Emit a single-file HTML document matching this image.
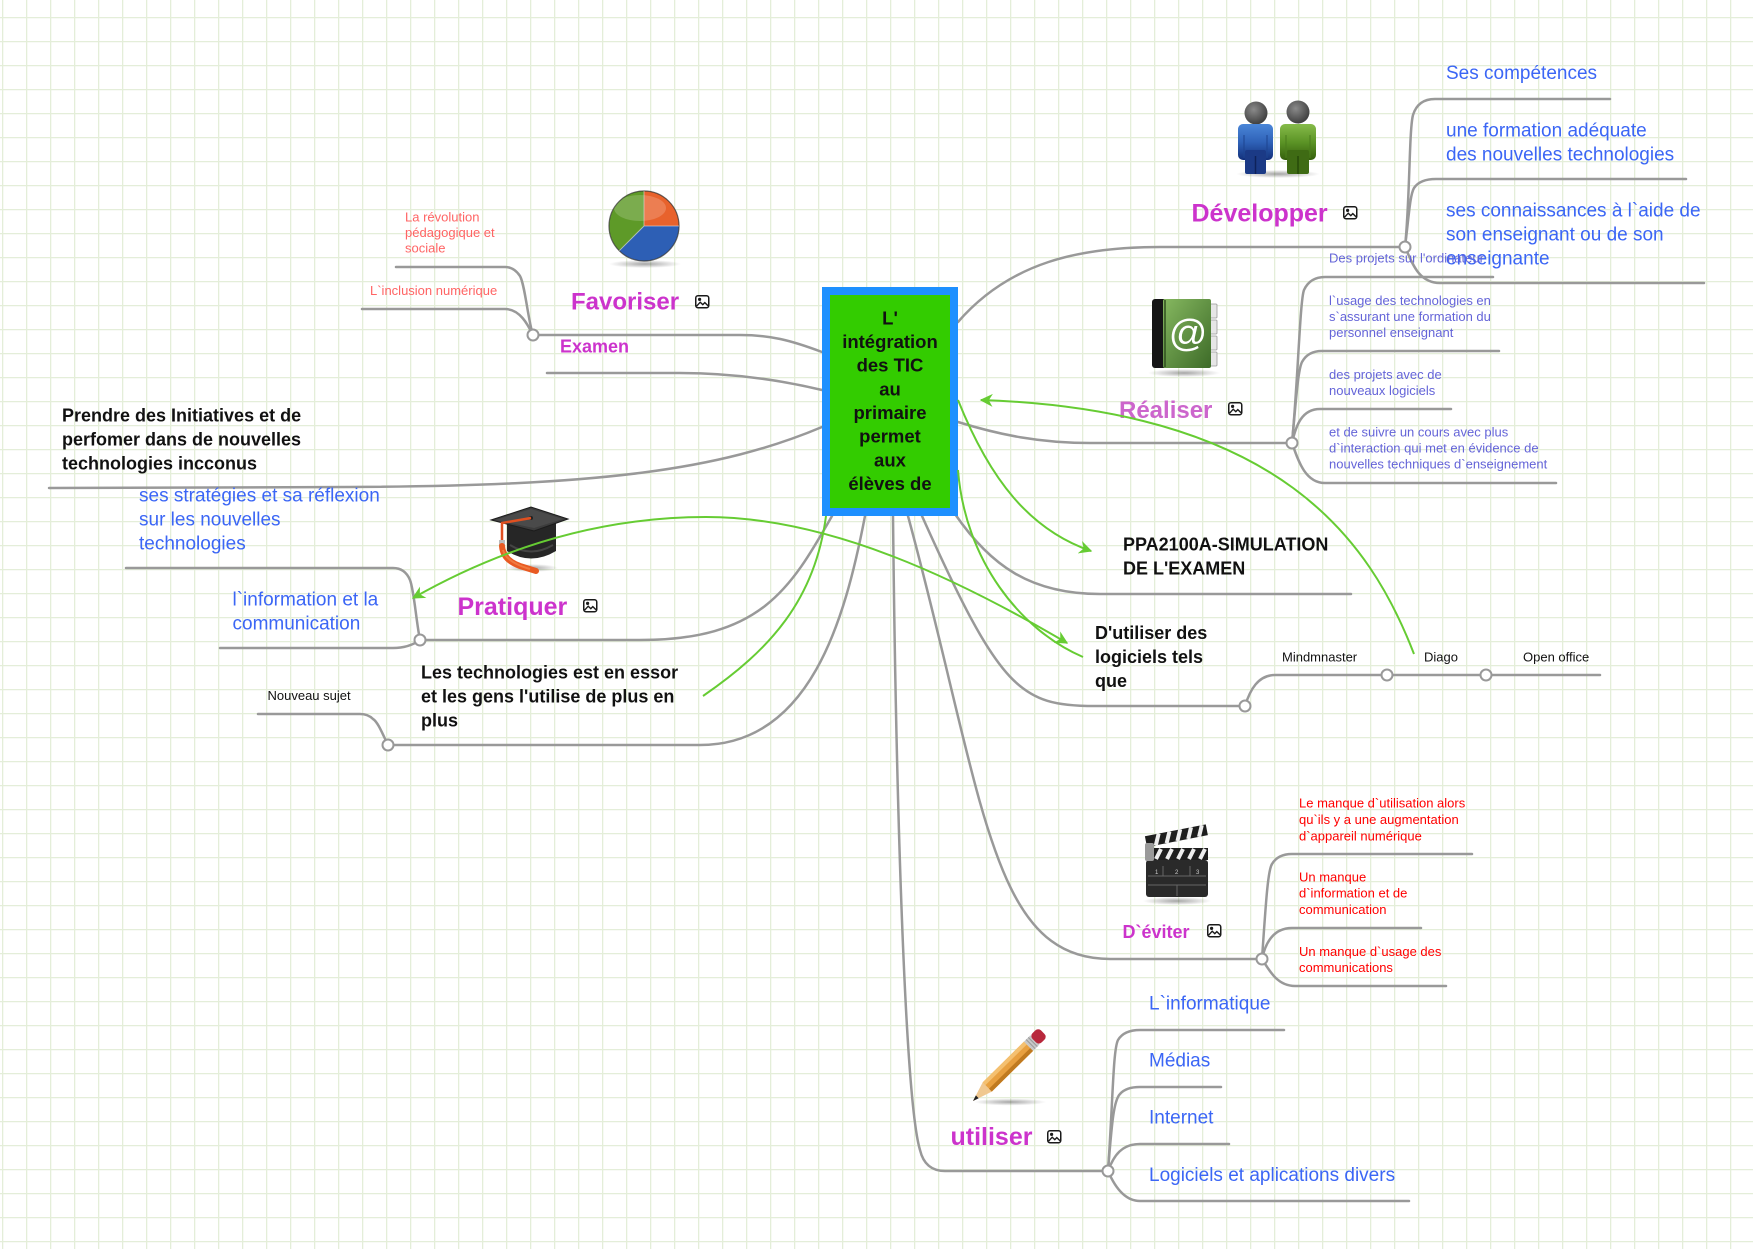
<!DOCTYPE html>
<html>
<head>
<meta charset="utf-8">
<style>
html,body{margin:0;padding:0;background:#ffffff;}
body{width:1753px;height:1249px;overflow:hidden;}
svg{display:block;}
text{font-family:"Liberation Sans",sans-serif;}
</style>
</head>
<body>
<svg width="1753" height="1249" viewBox="0 0 1753 1249" xmlns="http://www.w3.org/2000/svg">
<defs>
  <pattern id="grid" x="2" y="17" width="24" height="24" patternUnits="userSpaceOnUse">
    <path d="M0.5,0 V24 M0,0.5 H24" stroke="#e4eed9" stroke-width="1.6" fill="none"/>
  </pattern>
  <marker id="ah" viewBox="0 0 10 10" refX="9" refY="5" markerWidth="6.5" markerHeight="6.5" orient="auto-start-reverse" markerUnits="strokeWidth">
    <path d="M0,0 L10,5 L0,10 L3,5 z" fill="#66cc33"/>
  </marker>
  <g id="imgico">
    <rect x="0.75" y="0.75" width="13" height="12" rx="2.2" fill="#fff" stroke="#1a1a1a" stroke-width="1.5"/>
    <circle cx="4.6" cy="4.4" r="1.6" fill="#1a1a1a"/>
    <path d="M1.6,11.2 L5.2,7.2 L7.8,9.6 L9.8,7.6 L13,10.8" stroke="#1a1a1a" fill="none" stroke-width="1.4"/>
  </g>
  <linearGradient id="bookg" x1="0" y1="0" x2="1" y2="1">
    <stop offset="0" stop-color="#86b860"/>
    <stop offset="1" stop-color="#3d6b28"/>
  </linearGradient>
  <linearGradient id="blueP" x1="0" y1="0" x2="0" y2="1">
    <stop offset="0" stop-color="#4a86d8"/>
    <stop offset="0.5" stop-color="#2f62b8"/>
    <stop offset="1" stop-color="#13307a"/>
  </linearGradient>
  <linearGradient id="greenP" x1="0" y1="0" x2="0" y2="1">
    <stop offset="0" stop-color="#86bb4a"/>
    <stop offset="0.5" stop-color="#5c9426"/>
    <stop offset="1" stop-color="#345e0c"/>
  </linearGradient>
  <radialGradient id="headg" cx="0.4" cy="0.35" r="0.7">
    <stop offset="0" stop-color="#8a8a8a"/>
    <stop offset="1" stop-color="#3a3a3a"/>
  </radialGradient>
  <radialGradient id="shadow" cx="0.5" cy="0.5" r="0.5">
    <stop offset="0" stop-color="#000" stop-opacity="0.35"/>
    <stop offset="1" stop-color="#000" stop-opacity="0"/>
  </radialGradient>
</defs>

<!-- background grid -->
<rect x="0" y="0" width="1753" height="1249" fill="#ffffff"/>
<rect x="0" y="0" width="1753" height="1249" fill="url(#grid)"/>

<!-- grey connectors -->
<g stroke="#999999" stroke-width="2.5" fill="none" stroke-linecap="round">
  <path d="M958,322 C1010,262 1080,247 1160,247 L1405,247"/>
  <path d="M1405,247 C1410,200 1409,130 1413,115 Q1418,99 1435,99 L1610,99"/>
  <path d="M1405,247 C1409,215 1410,195 1414,188 Q1420,179 1436,179 L1686,179"/>
  <path d="M1405,247 C1412,262 1418,283 1440,283 L1704,283"/>
  <path d="M958,422 C1000,435 1040,443 1090,443 L1292,443"/>
  <path d="M1292,443 C1298,380 1300,300 1304,290 Q1310,277 1325,277 L1493,277"/>
  <path d="M1292,443 C1296,400 1298,370 1302,362 Q1308,351 1322,351 L1499,351"/>
  <path d="M1292,443 C1296,425 1302,409 1320,409 L1451,409"/>
  <path d="M1292,443 C1298,460 1305,483 1325,483 L1556,483"/>
  <path d="M822,352 C790,340 770,335 740,335 L533,335"/>
  <path d="M533,335 C528,320 525,285 520,276 Q514,267 505,267 L396,267"/>
  <path d="M533,335 C528,325 520,309 505,309 L362,309"/>
  <path d="M822,390 C780,380 730,373 680,373 L547,373"/>
  <path d="M822,427 C720,470 600,486 350,487 L49,488"/>
  <path d="M832,516 C790,590 760,640 640,640 L420,640"/>
  <path d="M420,640 C416,620 414,590 410,580 Q405,568 393,568 L126,568"/>
  <path d="M420,640 C413,645 405,648 393,648 L220,648"/>
  <path d="M865,516 C845,620 810,745 700,745 L388,745"/>
  <path d="M388,745 C383,735 378,722 373,719 Q368,714 360,714 L258,714"/>
  <path d="M893,516 C896,800 905,1100 920,1150 Q925,1171 945,1171 L1108,1171"/>
  <path d="M1108,1171 C1113,1100 1113,1050 1118,1040 Q1124,1030 1140,1030 L1284,1030"/>
  <path d="M1108,1171 C1112,1120 1114,1100 1120,1094 Q1126,1087 1140,1087 L1221,1087"/>
  <path d="M1108,1171 C1114,1155 1122,1144 1140,1144 L1229,1144"/>
  <path d="M1108,1171 C1114,1185 1124,1201 1140,1201 L1409,1201"/>
  <path d="M908,516 C985,800 990,959 1110,959 L1262,959"/>
  <path d="M1262,959 C1266,900 1268,870 1272,864 Q1278,854 1292,854 L1472,854"/>
  <path d="M1262,959 C1265,945 1272,928 1292,928 L1421,928"/>
  <path d="M1262,959 C1270,972 1278,986 1295,986 L1446,986"/>
  <path d="M922,516 C1000,690 1020,706 1095,706 L1245,706"/>
  <path d="M1245,706 C1250,690 1258,675 1275,675 L1600,675"/>
  <path d="M955,514 C990,565 1030,594 1100,594 L1351,594"/>
</g>

<!-- node circles -->
<g fill="#ffffff" stroke="#999999" stroke-width="2">
  <circle cx="1405" cy="247" r="5.5"/>
  <circle cx="1292" cy="443" r="5.5"/>
  <circle cx="533" cy="335" r="5.5"/>
  <circle cx="420" cy="640" r="5.5"/>
  <circle cx="388" cy="745" r="5.5"/>
  <circle cx="1108" cy="1171" r="5.5"/>
  <circle cx="1262" cy="959" r="5.5"/>
  <circle cx="1245" cy="706" r="5.5"/>
  <circle cx="1387" cy="675" r="5.5"/>
  <circle cx="1486" cy="675" r="5.5"/>
</g>

<!-- central box -->
<rect x="822" y="287" width="136" height="229" fill="#1e90ff"/>
<rect x="830" y="295" width="120" height="213" fill="#33cc00"/>
<g font-size="18.5" font-weight="bold" fill="#111" text-anchor="middle">
  <text x="890" y="324.5">L'</text>
  <text x="890" y="348">intégration</text>
  <text x="890" y="371.7">des TIC</text>
  <text x="890" y="395.4">au</text>
  <text x="890" y="419">primaire</text>
  <text x="890" y="442.7">permet</text>
  <text x="890" y="466.4">aux</text>
  <text x="890" y="490">élèves de</text>
</g>

<!-- ICONS -->
<!-- pie chart -->
<g>
  <ellipse cx="645" cy="264" rx="36" ry="4" fill="url(#shadow)"/>
  <path d="M644,226 L644,191 A35,35 0 0,1 679,226 Z" fill="#e8622c"/>
  <path d="M644,226 L679,226 A35,35 0 0,1 619.3,250.7 Z" fill="#2d5fb5"/>
  <path d="M644,226 L619.3,250.7 A35,35 0 0,1 644,191 Z" fill="#5e9a28"/>
  <ellipse cx="640" cy="208" rx="26" ry="13" fill="#ffffff" opacity="0.18"/>
  <circle cx="644" cy="226" r="35" fill="none" stroke="#2a2a2a" stroke-width="1.2" opacity="0.7"/>
  <path d="M644,226 L644,191 M644,226 L679,226 M644,226 L619.3,250.7" stroke="#ddd" stroke-width="1" opacity="0.6"/>
</g>

<!-- people -->
<g>
  <ellipse cx="1278" cy="174" rx="42" ry="4" fill="url(#shadow)"/>
  <circle cx="1256" cy="113" r="11.5" fill="url(#headg)"/>
  <rect x="1238" y="124" width="35" height="36" rx="5" fill="url(#blueP)"/>
  <rect x="1245" y="150" width="21" height="24" rx="2" fill="#1b3a86"/>
  <line x1="1255.5" y1="156" x2="1255.5" y2="174" stroke="#0e225a" stroke-width="1.5"/>
  <line x1="1244" y1="135" x2="1244" y2="158" stroke="#1d4490" stroke-width="1"/>
  <line x1="1267" y1="135" x2="1267" y2="158" stroke="#1d4490" stroke-width="1"/>
  <circle cx="1298" cy="112" r="11.5" fill="url(#headg)"/>
  <rect x="1280" y="124" width="36" height="36" rx="5" fill="url(#greenP)"/>
  <rect x="1287" y="150" width="22" height="24" rx="2" fill="#3f6b14"/>
  <line x1="1298" y1="156" x2="1298" y2="174" stroke="#274a08" stroke-width="1.5"/>
  <line x1="1286" y1="135" x2="1286" y2="158" stroke="#4a7d1c" stroke-width="1"/>
  <line x1="1310" y1="135" x2="1310" y2="158" stroke="#4a7d1c" stroke-width="1"/>
</g>

<!-- book -->
<g>
  <ellipse cx="1184" cy="373" rx="36" ry="4" fill="url(#shadow)"/>
  <rect x="1209" y="304" width="8" height="14" rx="1" fill="#e6e6e6" stroke="#999" stroke-width="0.8"/>
  <rect x="1209" y="320" width="8" height="14" rx="1" fill="#e6e6e6" stroke="#999" stroke-width="0.8"/>
  <rect x="1209" y="336" width="8" height="14" rx="1" fill="#e6e6e6" stroke="#999" stroke-width="0.8"/>
  <rect x="1209" y="352" width="8" height="14" rx="1" fill="#e6e6e6" stroke="#999" stroke-width="0.8"/>
  <rect x="1152" y="299" width="16" height="69" rx="3" fill="#151515"/>
  <rect x="1163" y="299" width="48" height="69" rx="2" fill="url(#bookg)"/>
  <line x1="1165" y1="300" x2="1165" y2="367" stroke="#2f4f1e" stroke-width="1.5"/>
  <text x="1188" y="346" font-family="Liberation Serif, serif" font-size="38" fill="#ffffff" text-anchor="middle">@</text>
</g>

<!-- graduation hat -->
<g>
  <ellipse cx="532" cy="568" rx="26" ry="4" fill="url(#shadow)"/>
  <path d="M507,523 L507,551 Q531,566 556,551 L556,523 Z" fill="#262626"/>
  <path d="M510,545 Q531,558 553,545" stroke="#444" stroke-width="2" fill="none"/>
  <polygon points="491,520 531,507 568,519 534,531" fill="#3c3c3c" stroke="#1c1c1c" stroke-width="1"/>
  <polygon points="495,520 531,509 563,519 534,528" fill="#4a4a4a"/>
  <circle cx="531" cy="518" r="2" fill="#222"/>
  <path d="M531,518 L502,523 L502,543" stroke="#e05020" stroke-width="2.5" fill="none"/>
  <rect x="499" y="540" width="6" height="6" fill="#bbbbbb"/>
  <path d="M502,546 Q503,560 520,566 L536,571" stroke="#e85a22" stroke-width="6" fill="none" stroke-linecap="round"/>
  <path d="M503,550 Q506,562 530,569" stroke="#f07a40" stroke-width="2" fill="none"/>
</g>

<!-- clapper board -->
<g>
  <ellipse cx="1177" cy="901" rx="34" ry="4" fill="url(#shadow)"/>
  <rect x="1146" y="860" width="62" height="37" rx="3" fill="#2a2a2a"/>
  <line x1="1148" y1="876" x2="1206" y2="876" stroke="#666" stroke-width="1"/>
  <line x1="1148" y1="885" x2="1206" y2="885" stroke="#666" stroke-width="1"/>
  <line x1="1177" y1="885" x2="1177" y2="896" stroke="#666" stroke-width="1"/>
  <line x1="1163" y1="866" x2="1163" y2="876" stroke="#666" stroke-width="1"/>
  <line x1="1190" y1="866" x2="1190" y2="876" stroke="#666" stroke-width="1"/>
  <text x="1155" y="874" font-size="6" fill="#ccc">1</text>
  <text x="1175" y="874" font-size="6" fill="#ccc">2</text>
  <text x="1196" y="874" font-size="6" fill="#ccc">3</text>
  <rect x="1146" y="848" width="62" height="12" fill="#1e1e1e"/>
  <g stroke="#eeeeee" stroke-width="4">
    <line x1="1156" y1="859" x2="1161" y2="849"/>
    <line x1="1167" y1="859" x2="1172" y2="849"/>
    <line x1="1178" y1="859" x2="1183" y2="849"/>
    <line x1="1189" y1="859" x2="1194" y2="849"/>
    <line x1="1200" y1="859" x2="1205" y2="849"/>
  </g>
  <g transform="rotate(-11 1147 847)">
    <rect x="1147" y="836" width="62" height="11" fill="#1e1e1e"/>
    <g stroke="#eeeeee" stroke-width="4">
      <line x1="1156" y1="847" x2="1161" y2="836"/>
      <line x1="1167" y1="847" x2="1172" y2="836"/>
      <line x1="1178" y1="847" x2="1183" y2="836"/>
      <line x1="1189" y1="847" x2="1194" y2="836"/>
      <line x1="1200" y1="847" x2="1205" y2="836"/>
    </g>
  </g>
  <rect x="1145" y="843" width="9" height="18" rx="2" fill="#9a9a9a"/>
</g>

<!-- pencil -->
<g>
  <ellipse cx="1010" cy="1102" rx="36" ry="3.5" fill="url(#shadow)"/>
  <g transform="translate(973,1101) rotate(-44.6)">
    <path d="M0,0 L20,-6.5 L20,6.5 Z" fill="#f0c890"/>
    <path d="M0,0 L6,-2 L6,2 Z" fill="#222"/>
    <rect x="20" y="-6.5" width="58" height="13" fill="#e8a040"/>
    <rect x="20" y="-6.5" width="58" height="4" fill="#f4c070"/>
    <rect x="20" y="2.5" width="58" height="4" fill="#c07a20"/>
    <rect x="78" y="-6.5" width="9" height="13" fill="#c8c8c8"/>
    <line x1="81" y1="-6.5" x2="81" y2="6.5" stroke="#999" stroke-width="1"/>
    <line x1="84" y1="-6.5" x2="84" y2="6.5" stroke="#999" stroke-width="1"/>
    <rect x="86" y="-6.5" width="12" height="13" rx="4" fill="#b8283c"/>
  </g>
</g>

<!-- image glyph icons -->
<use href="#imgico" x="1343" y="206"/>
<use href="#imgico" x="695" y="295"/>
<use href="#imgico" x="1228" y="402"/>
<use href="#imgico" x="583" y="599"/>
<use href="#imgico" x="1207" y="924"/>
<use href="#imgico" x="1047" y="1130"/>

<!-- MAIN TOPIC LABELS -->
<g font-weight="bold" fill="#cc33cc">
  <text x="1191.5" y="221.5" font-size="25">Développer</text>
  <text x="571" y="309.5" font-size="24">Favoriser</text>
  <text x="1119" y="418" font-size="24" fill="#cc66cc">Réaliser</text>
  <text x="457.5" y="615" font-size="25">Pratiquer</text>
  <text x="560" y="352.5" font-size="18">Examen</text>
  <text x="1122.5" y="938" font-size="18">D`éviter</text>
  <text x="950.5" y="1145" font-size="25">utiliser</text>
</g>

<!-- black bold labels -->
<g font-weight="bold" fill="#111" font-size="18">
  <text x="62" y="421.5">Prendre des Initiatives et de</text>
  <text x="62" y="445.5">perfomer dans de nouvelles</text>
  <text x="62" y="469.5">technologies incconus</text>
  <text x="421" y="678.5">Les technologies est en essor</text>
  <text x="421" y="702.5">et les gens l'utilise de plus en</text>
  <text x="421" y="726.5">plus</text>
  <text x="1123" y="550.5">PPA2100A-SIMULATION</text>
  <text x="1123" y="574.5">DE L'EXAMEN</text>
  <text x="1095" y="639">D'utiliser des</text>
  <text x="1095" y="663">logiciels tels</text>
  <text x="1095" y="687">que</text>
</g>

<!-- blue 19px labels -->
<g fill="#3b66f5" font-size="19">
  <text x="1446" y="79">Ses compétences</text>
  <text x="1446" y="136.5">une formation adéquate</text>
  <text x="1446" y="160.5">des nouvelles technologies</text>
  <text x="1446" y="216.5">ses connaissances à l`aide de</text>
  <text x="1446" y="240.5">son enseignant ou de son</text>
  <text x="1446" y="264.5">enseignante</text>
  <text x="139" y="501.5">ses stratégies et sa réflexion</text>
  <text x="139" y="525.5">sur les nouvelles</text>
  <text x="139" y="549.5">technologies</text>
  <text x="232.5" y="605.5">l`information et la</text>
  <text x="232.5" y="629.5">communication</text>
  <text x="1149" y="1009.5">L`informatique</text>
  <text x="1149" y="1066.5">Médias</text>
  <text x="1149" y="1123.5">Internet</text>
  <text x="1149" y="1181">Logiciels et aplications divers</text>
</g>

<!-- Réaliser children -->
<g fill="#6464d8" font-size="13">
  <text x="1329" y="262.5">Des projets sur l'ordinateur</text>
  <text x="1329" y="305">l`usage des technologies en</text>
  <text x="1329" y="321">s`assurant une formation du</text>
  <text x="1329" y="337">personnel enseignant</text>
  <text x="1329" y="379">des projets avec de</text>
  <text x="1329" y="395">nouveaux logiciels</text>
  <text x="1329" y="436.5">et de suivre un cours avec plus</text>
  <text x="1329" y="452.5">d`interaction qui met en évidence de</text>
  <text x="1329" y="468.5">nouvelles techniques d`enseignement</text>
</g>

<!-- Favoriser children -->
<g fill="#ff6464" font-size="13">
  <text x="405" y="221.5">La  révolution</text>
  <text x="405" y="237">pédagogique et</text>
  <text x="405" y="252.5">sociale</text>
  <text x="370" y="295">L`inclusion numérique</text>
</g>

<!-- D'éviter children -->
<g fill="#ff0000" font-size="13">
  <text x="1299" y="807.5">Le manque d`utilisation alors</text>
  <text x="1299" y="824">qu`ils y a une augmentation</text>
  <text x="1299" y="840.5">d`appareil numérique</text>
  <text x="1299" y="881.5">Un manque</text>
  <text x="1299" y="897.5">d`information et  de</text>
  <text x="1299" y="914">communication</text>
  <text x="1299" y="956">Un manque d`usage des</text>
  <text x="1299" y="972">communications</text>
</g>

<!-- small black -->
<g fill="#111" font-size="13">
  <text x="1282" y="661.5">Mindmnaster</text>
  <text x="1424" y="661.5">Diago</text>
  <text x="1523" y="661.5">Open office</text>
  <text x="267.5" y="700">Nouveau sujet</text>
</g>

<!-- green relationship lines -->
<g stroke="#66cc33" stroke-width="2" fill="none">
  <path d="M958,400 C990,480 1030,530 1091,551" marker-end="url(#ah)"/>
  <path d="M958,470 C965,560 1020,630 1083,657"/>
  <path d="M413,598 C480,560 580,517 706,517 C830,517 960,580 1067,643" marker-start="url(#ah)" marker-end="url(#ah)"/>
  <path d="M1414,654 C1370,540 1280,410 981,400" marker-end="url(#ah)"/>
  <path d="M826,516 C815,600 770,650 703,696"/>
</g>
</svg>
</body>
</html>
